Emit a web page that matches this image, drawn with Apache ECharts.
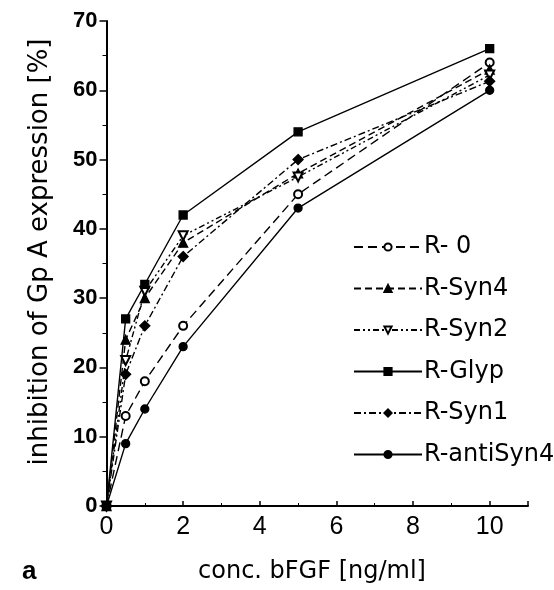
<!DOCTYPE html>
<html><head><meta charset="utf-8">
<script src="https://cdn.jsdelivr.net/npm/echarts@6/dist/echarts.min.js"></script>
<style>html,body{margin:0;padding:0;background:#fff}#c{width:554px;height:590px}</style>
</head><body><div id="c"></div>
<script>
const conc = [0, 0.5, 1, 2, 5, 10];
const r0 = [0, 13, 18, 26, 45, 64];
const rSyn4 = [0, 24, 30, 38, 48, 63];
const rSyn2 = [0, 21, 31, 39, 47.5, 62.2];
const rGlyp = [0, 27, 32, 42, 54, 66];
const rSyn1 = [0, 19, 26, 36, 50, 61.3];
const rAntiSyn4 = [0, 9, 14, 23, 43, 60];
const seriesNames = ['R- 0', 'R-Syn4', 'R-Syn2', 'R-Glyp', 'R-Syn1', 'R-antiSyn4'];
const xTicks = [0, 2, 4, 6, 8, 10];

const pair = v => conc.map((x, i) => [x, v[i]]);
const F = 'DejaVu Sans, sans-serif';
const FL = 'Liberation Sans, Arial, sans-serif';
function s(name, data, symbol, dash, size, rot) {
  return {
    name, type: 'line', data: pair(data), symbol, symbolSize: size || 8,
    symbolRotate: rot || 0,
    lineStyle: { color: '#000', width: 1.4, type: dash },
    itemStyle: { color: '#000', borderColor: '#000', borderWidth: 1.3 },
    emphasis: { disabled: true }, animation: false
  };
}
const chart = echarts.init(document.getElementById('c'));
chart.setOption({
  backgroundColor: '#fff',
  animation: false,
  grid: { left: 106.5, right: 26, top: 21, bottom: 84 },
  xAxis: {
    type: 'value', min: 0, max: 11, interval: 2,
    axisLine: { lineStyle: { color: '#000', width: 2 } },
    axisTick: { inside: true, length: 5, lineStyle: { color: '#000', width: 1.5 } },
    minorTick: { show: true, splitNumber: 2, length: 3, lineStyle: { color: '#000' } },
    splitLine: { show: false },
    axisLabel: { color: '#000', fontSize: 25, fontFamily: FL, margin: 9,
      formatter: v => (xTicks.indexOf(v) >= 0 ? String(v) : '') }
  },
  yAxis: {
    type: 'value', min: 0, max: 70, interval: 10,
    axisLine: { show: true, lineStyle: { color: '#000', width: 2 } },
    axisTick: { show: true, length: 7, lineStyle: { color: '#000', width: 1.5 } },
    minorTick: { show: true, splitNumber: 2, length: 4, lineStyle: { color: '#000' } },
    splitLine: { show: false },
    axisLabel: { color: '#000', fontSize: 22, fontWeight: 'bold', fontFamily: FL, margin: 9 }
  },
  legend: {
    orient: 'vertical', left: 348, top: 230, itemGap: 17.5,
    itemWidth: 68, itemHeight: 9,
    textStyle: { color: '#000', fontSize: 24, fontFamily: F, padding: [0, 0, 0, -3] },
    data: seriesNames
  },
  graphic: [
    { type: 'text', x: 40, y: 252, rotation: Math.PI / 2,
      style: { text: 'inhibition of Gp A expression [%]', fontSize: 26, fontFamily: F, fill: '#000',
        align: 'center', verticalAlign: 'middle' } },
    { type: 'text', x: 312, y: 572,
      style: { text: 'conc. bFGF [ng/ml]', fontSize: 24, fontFamily: F, fill: '#000',
        align: 'center', verticalAlign: 'middle' } },
    { type: 'text', x: 22, y: 572,
      style: { text: 'a', fontSize: 26, fontWeight: 'bold', fontFamily: FL, fill: '#000',
        align: 'left', verticalAlign: 'middle' } }
  ],
  series: [
    s(seriesNames[0], r0, 'emptyCircle', [9, 5], 8),
    s(seriesNames[1], rSyn4, 'triangle', [7, 4], 9),
    s(seriesNames[2], rSyn2, 'emptyTriangle', [6, 3, 2, 3, 2, 3], 9, 180),
    s(seriesNames[3], rGlyp, 'rect', 'solid', 8),
    s(seriesNames[4], rSyn1, 'diamond', [7, 3, 2, 3], 10),
    s(seriesNames[5], rAntiSyn4, 'circle', 'solid', 8)
  ]
});
</script></body></html>
